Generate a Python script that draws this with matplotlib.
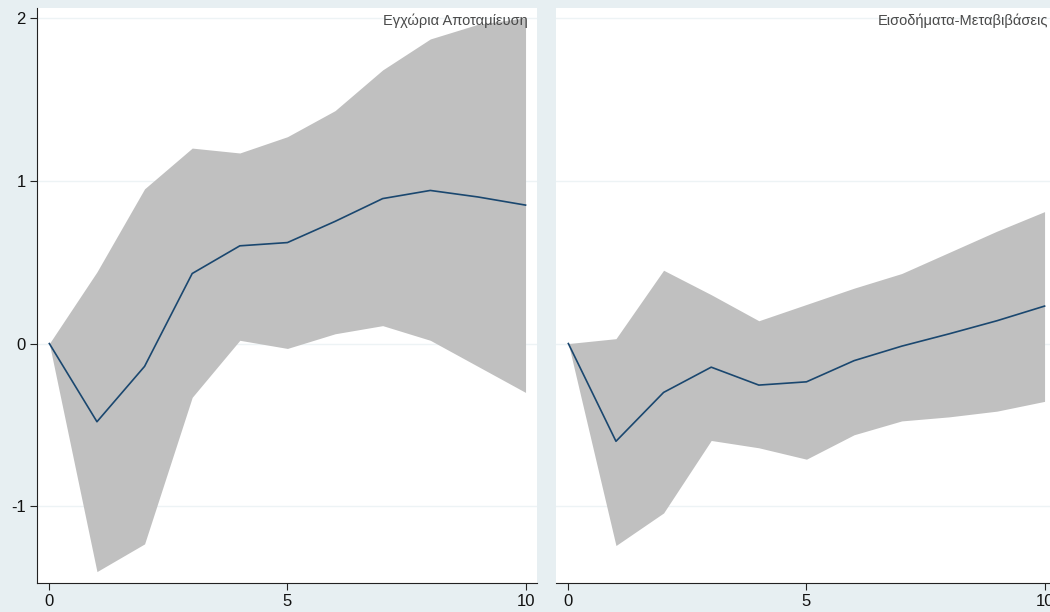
import numpy as np
import matplotlib.pyplot as plt

# horizon steps
steps = [0, 1, 2, 3, 4, 5, 6, 7, 8, 9, 10]

# left panel: Εγχώρια Αποταμίευση
save_irf = [0, -0.48, -0.14, 0.43, 0.60, 0.62, 0.75, 0.89, 0.94, 0.90, 0.85]
save_hi = [0, 0.44, 0.95, 1.20, 1.17, 1.27, 1.43, 1.68, 1.87, 1.96, 2.00]
save_lo = [0, -1.40, -1.23, -0.33, 0.02, -0.03, 0.06, 0.11, 0.02, -0.14, -0.30]

# right panel: Εισοδήματα-Μεταβιβάσεις
inc_irf = [0, -0.60, -0.30, -0.145, -0.255, -0.235, -0.105, -0.016, 0.06, 0.14, 0.23]
inc_hi = [0, 0.03, 0.45, 0.30, 0.14, 0.24, 0.34, 0.43, 0.56, 0.69, 0.81]
inc_lo = [0, -1.24, -1.04, -0.595, -0.64, -0.71, -0.56, -0.475, -0.45, -0.415, -0.355]

titles = ["Εγχώρια Αποταμίευση", "Εισοδήματα-Μεταβιβάσεις"]
yticks = [-1, 0, 1, 2]
xticks = [0, 5, 10]

bg = '#e7eff2'
band = '#c0c0c0'
navy = '#1a476f'

plt.rcParams['font.family'] = ['Liberation Sans', 'DejaVu Sans']
plt.rcParams['axes.unicode_minus'] = False

fig = plt.figure(figsize=(10.5, 6.12), dpi=100, facecolor=bg)
ax1 = fig.add_axes([0.0352, 0.0474, 0.4762, 0.9395])
ax2 = fig.add_axes([0.5295, 0.0474, 0.4762, 0.9395])

panels = [(ax1, save_irf, save_lo, save_hi), (ax2, inc_irf, inc_lo, inc_hi)]
for i, (ax, irf, lo, hi) in enumerate(panels):
    ax.set_facecolor('white')
    for y in yticks:
        ax.axhline(y, color='#edf3f5', lw=1.0, zorder=0)
    ax.fill_between(steps, lo, hi, color=band, lw=0, zorder=1)
    ax.plot(steps, irf, color=navy, lw=1.2, zorder=2)
    ax.set_xlim(-0.26, 10.24)
    ax.set_ylim(-1.47, 2.06)
    ax.set_xticks(xticks)
    ax.set_yticks(yticks)
    for s in ['top', 'right']:
        ax.spines[s].set_visible(False)
    ax.spines['bottom'].set_color('#222222')
    ax.spines['left'].set_color('#222222')
    ax.tick_params(axis='both', direction='out', length=5, width=0.8,
                   color='#222222', labelsize=12, labelcolor='#111111', pad=3)
    ax.text(0.982, 0.99, titles[i], transform=ax.transAxes, ha='right', va='top',
            fontsize=10.5, color='#4a4a4a')

ax2.spines['left'].set_visible(False)
ax2.tick_params(axis='y', left=False, labelleft=False)
ax2.texts[0].set_position((0.985, 0.99))

fig.savefig('out.png', dpi=100, facecolor=bg)
